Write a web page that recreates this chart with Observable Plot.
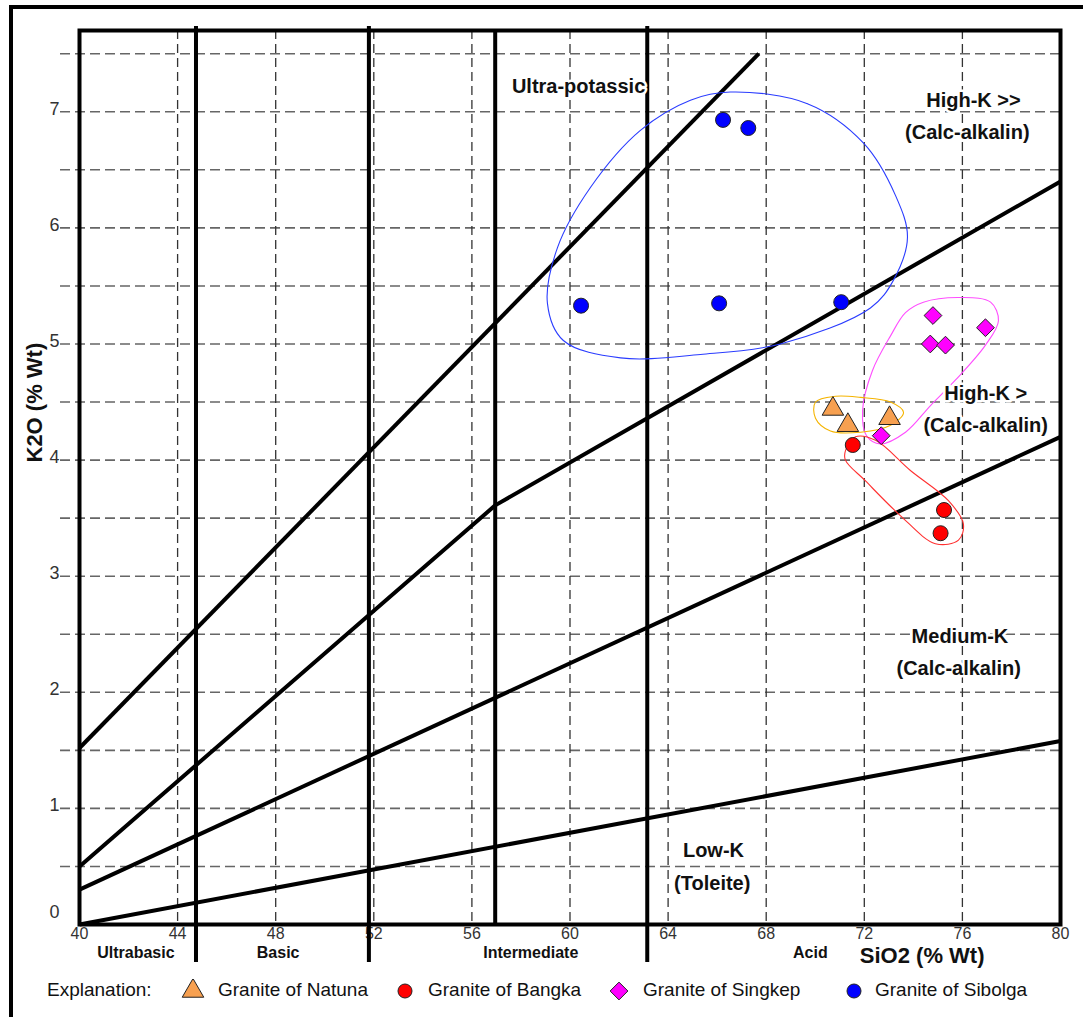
<!DOCTYPE html>
<html>
<head>
<meta charset="utf-8">
<script src="https://cdn.jsdelivr.net/npm/d3@7"></script>
<script src="https://cdn.jsdelivr.net/npm/@observablehq/plot@0.6"></script>
<style>
  html, body { margin: 0; padding: 0; background: #fff; }
  #wrap { position: relative; width: 1083px; height: 1017px; overflow: hidden; font-family: "Liberation Sans", Arial, sans-serif; }
  #chart { position: absolute; left: 0; top: 0; }
  #border { position: absolute; left: 9px; top: 5px; width: 1300px; height: 1300px; border-left: 4px solid #000; border-top: 4px solid #000; z-index: 3; pointer-events: none; }
  #legend { position: absolute; left: 0; top: 0; width: 1083px; height: 1017px; z-index: 2; pointer-events: none; }
  .lg { position: absolute; top: 978px; font-size: 19px; line-height: 24px; color: #111; white-space: nowrap; }
  .sym { position: absolute; top: 979px; }
</style>
</head>
<body>
<div id="wrap">
  <div id="chart"></div>
  <div id="legend"></div>
  <div id="border"></div>
</div>
<script>
// ---- axes / ticks ----
const xDomain = [40, 80];
const yDomain = [0, 7.7];
const xTicks = [40, 44, 48, 52, 56, 60, 64, 68, 72, 76, 80];
const yTicks = [1, 2, 3, 4, 5, 6, 7];
const yTickZero = [0];
const xGrid = [44, 48, 52, 56, 60, 64, 68, 72, 76];
const yGrid = [0.5, 1, 1.5, 2, 2.5, 3, 3.5, 4, 4.5, 5, 5.5, 6, 6.5, 7, 7.5];

// ---- rock-type boundaries (SiO2) ----
const rockBoundsLong = [44.75, 51.8, 63.15];
const rockBoundsShort = [56.95];
const rockNames = ["Ultrabasic", "Basic", "Intermediate", "Acid"];
const rockNameSiO2 = [42.3, 48.1, 58.4, 69.8];

// ---- series boundary lines ----
const bUltraSiO2 = [40, 67.7];
const bUltraK2O = [1.52, 7.5];
const bHighKSiO2 = [40, 56.95, 80];
const bHighKK2O = [0.5, 3.61, 6.4];
const bMediumSiO2 = [40, 80];
const bMediumK2O = [0.3, 4.2];
const bLowSiO2 = [40, 80];
const bLowK2O = [0, 1.58];

// ---- field labels ----
const fieldLabels = ["Ultra-potassic", "High-K >>", "(Calc-alkalin)", "High-K >", "(Calc-alkalin)", "Medium-K", "(Calc-alkalin)", "Low-K", "(Toleite)"];
const fieldSiO2 = [60.35, 76.45, 76.2, 76.95, 76.95, 75.9, 75.85, 65.85, 65.8];
const fieldK2O = [7.22, 7.1, 6.82, 4.57, 4.3, 2.48, 2.2, 0.64, 0.35];

// ---- samples ----
const natunaSiO2 = [70.72, 71.33, 73.03];
const natunaK2O = [4.44, 4.30, 4.36];
const bangkaSiO2 = [71.53, 75.25, 75.11];
const bangkaK2O = [4.13, 3.57, 3.37];
const singkepSiO2 = [74.8, 76.94, 74.69, 75.31, 72.69];
const singkepK2O = [5.245, 5.14, 5.0, 4.99, 4.21];
const sibolgaSiO2 = [60.45, 66.08, 71.06, 66.24, 67.27];
const sibolgaK2O = [5.33, 5.35, 5.36, 6.93, 6.86];

// ---- hand-drawn envelopes ----
const envSibolgaSiO2 = [66.54, 69.68, 71.97, 73.27, 73.76, 73.19, 72.25, 68.58, 65.32, 62.06, 59.73, 59.08, 59.49, 60.84, 62.87, 64.91];
const envSibolgaK2O = [7.17, 7.07, 6.73, 6.28, 5.92, 5.55, 5.31, 5.00, 4.91, 4.88, 5.03, 5.35, 5.83, 6.35, 6.84, 7.10];
const envSingkepSiO2 = [74.41, 75.92, 77.15, 77.47, 76.94, 75.72, 74.70, 73.68, 72.66, 72.09, 71.93, 72.33, 73.07, 73.68];
const envSingkepK2O = [5.36, 5.40, 5.36, 5.20, 4.99, 4.69, 4.47, 4.24, 4.14, 4.21, 4.43, 4.77, 5.07, 5.27];
const envNatunaSiO2 = [70.01, 70.83, 71.85, 73.07, 73.60, 73.07, 71.85, 70.62, 70.01];
const envNatunaK2O = [4.50, 4.55, 4.54, 4.50, 4.41, 4.30, 4.24, 4.25, 4.36];
const envBangkaSiO2 = [71.23, 71.64, 72.46, 73.88, 75.43, 76.04, 75.84, 74.90, 73.48, 72.05, 71.23];
const envBangkaK2O = [4.08, 4.20, 4.17, 3.91, 3.65, 3.45, 3.31, 3.28, 3.52, 3.82, 4.00];

const toRows = (xs, ys, extra = {}) => xs.map((x, i) => ({x, y: ys[i], ...extra}));

const boundaryRows = [
  ...toRows(bUltraSiO2, bUltraK2O, {id: "ultra"}),
  ...toRows(bHighKSiO2, bHighKK2O, {id: "high"}),
  ...toRows(bMediumSiO2, bMediumK2O, {id: "medium"}),
  ...toRows(bLowSiO2, bLowK2O, {id: "low"})
];
const envelopes = [
  {rows: toRows(envSibolgaSiO2, envSibolgaK2O), color: "#2a3cff"},
  {rows: toRows(envSingkepSiO2, envSingkepK2O), color: "#ff4dff"},
  {rows: toRows(envNatunaSiO2, envNatunaK2O), color: "#f5b400"},
  {rows: toRows(envBangkaSiO2, envBangkaK2O), color: "#ff3030"}
];
const fieldRows = fieldLabels.map((t, i) => ({t, x: fieldSiO2[i], y: fieldK2O[i]}));

const symStyle = {r: 8, stroke: "#222", strokeWidth: 1, fillOpacity: 1};

const chart = Plot.plot({
  width: 1083,
  height: 975,
  marginLeft: 79,
  marginRight: 23,
  marginTop: 30,
  marginBottom: 51,
  style: {fontFamily: "'Liberation Sans', Arial, sans-serif", background: "transparent", overflow: "visible"},
  x: {domain: xDomain, axis: null},
  y: {domain: yDomain, axis: null},
  marks: [
    // grid
    Plot.ruleY(yGrid, {stroke: "#666", strokeWidth: 1.6, strokeDasharray: "10,5", insetLeft: -19}),
    Plot.ruleX(xGrid, {stroke: "#333", strokeWidth: 1.3, strokeDasharray: "9,5"}),
    // axes
    Plot.axisX({ticks: xTicks, tickSize: 0, tickPadding: 3, fontSize: 16, fill: "#333", label: null}),
    Plot.axisY({ticks: yTicks, tickSize: 0, tickPadding: 20, fontSize: 18, fill: "#333", label: null, dy: -3}),
    Plot.axisY({ticks: yTickZero, tickSize: 0, tickPadding: 20, fontSize: 18, fill: "#333", label: null, dy: -12}),
    // rock-type boundaries
    Plot.ruleX(rockBoundsLong, {stroke: "#000", strokeWidth: 4, insetBottom: -38, insetTop: -4}),
    Plot.ruleX(rockBoundsShort, {stroke: "#000", strokeWidth: 4}),
    // series boundaries
    Plot.line(boundaryRows, {x: "x", y: "y", z: "id", stroke: "#000", strokeWidth: 4, strokeLinecap: "butt"}),
    Plot.frame({stroke: "#000", strokeWidth: 4}),
    // envelopes
    ...envelopes.map(e => Plot.line(e.rows, {x: "x", y: "y", curve: "catmull-rom-closed", stroke: e.color, strokeWidth: 1.1})),
    // field labels
    Plot.text(fieldRows, {x: "x", y: "y", text: "t", fontSize: 20, fontWeight: "bold", fill: "#111", stroke: "white", strokeWidth: 5}),
    // rock-type labels
    Plot.text(rockNames, {x: (d, i) => rockNameSiO2[i], text: d => d, frameAnchor: "bottom", dy: 33, fontSize: 16, fontWeight: "bold", fill: "#111"}),
    // axis titles
    Plot.text(["K2O (% Wt)"], {frameAnchor: "left", dx: -45, dy: -15, rotate: -90, fontSize: 22, fontWeight: "bold", fill: "#111"}),
    Plot.text(["SiO2 (% Wt)"], {frameAnchor: "bottom-right", dx: -76, dy: 38, fontSize: 22, fontWeight: "bold", fill: "#111"}),
    // samples
    Plot.dot(toRows(natunaSiO2, natunaK2O), {x: "x", y: "y", symbol: "triangle", fill: "#f7a050", ...symStyle}),
    Plot.dot(toRows(bangkaSiO2, bangkaK2O), {x: "x", y: "y", symbol: "circle", fill: "#ff0000", ...symStyle, r: 7.5}),
    Plot.dot(toRows(singkepSiO2, singkepK2O), {x: "x", y: "y", symbol: "diamond2", fill: "#ff00ff", ...symStyle}),
    Plot.dot(toRows(sibolgaSiO2, sibolgaK2O), {x: "x", y: "y", symbol: "circle", fill: "#0000ff", ...symStyle, r: 7.5})
  ]
});
document.getElementById("chart").appendChild(chart);

// ---- legend ----
const legendNames = ["Granite of Natuna", "Granite of Bangka", "Granite of Singkep", "Granite of Sibolga"];
const legendSymbols = ["triangle", "circle", "diamond2", "circle"];
const legendFills = ["#f7a050", "#ff0000", "#ff00ff", "#0000ff"];
const legendSymX = [193, 405, 619, 854];
const legendTextX = [218, 428, 643, 875];

const lg = document.getElementById("legend");
const ex = document.createElement("div");
ex.className = "lg"; ex.style.left = "47px"; ex.textContent = "Explanation:";
lg.appendChild(ex);
const symMap = {triangle: d3.symbolTriangle, circle: d3.symbolCircle, diamond2: d3.symbolDiamond2};
legendNames.forEach((name, i) => {
  const svg = d3.create("svg").attr("width", 24).attr("height", 24)
    .attr("class", "sym").style("left", (legendSymX[i] - 12) + "px");
  const sz = legendSymbols[i] === "circle" ? Math.PI * 7 * 7 : Math.PI * 8 * 8;
  svg.append("path").attr("transform", "translate(12,12)")
    .attr("d", d3.symbol(symMap[legendSymbols[i]], sz)())
    .attr("fill", legendFills[i]).attr("stroke", "#222").attr("stroke-width", 1);
  lg.appendChild(svg.node());
  const t = document.createElement("div");
  t.className = "lg"; t.style.left = legendTextX[i] + "px"; t.textContent = name;
  lg.appendChild(t);
});
</script>
</body>
</html>
